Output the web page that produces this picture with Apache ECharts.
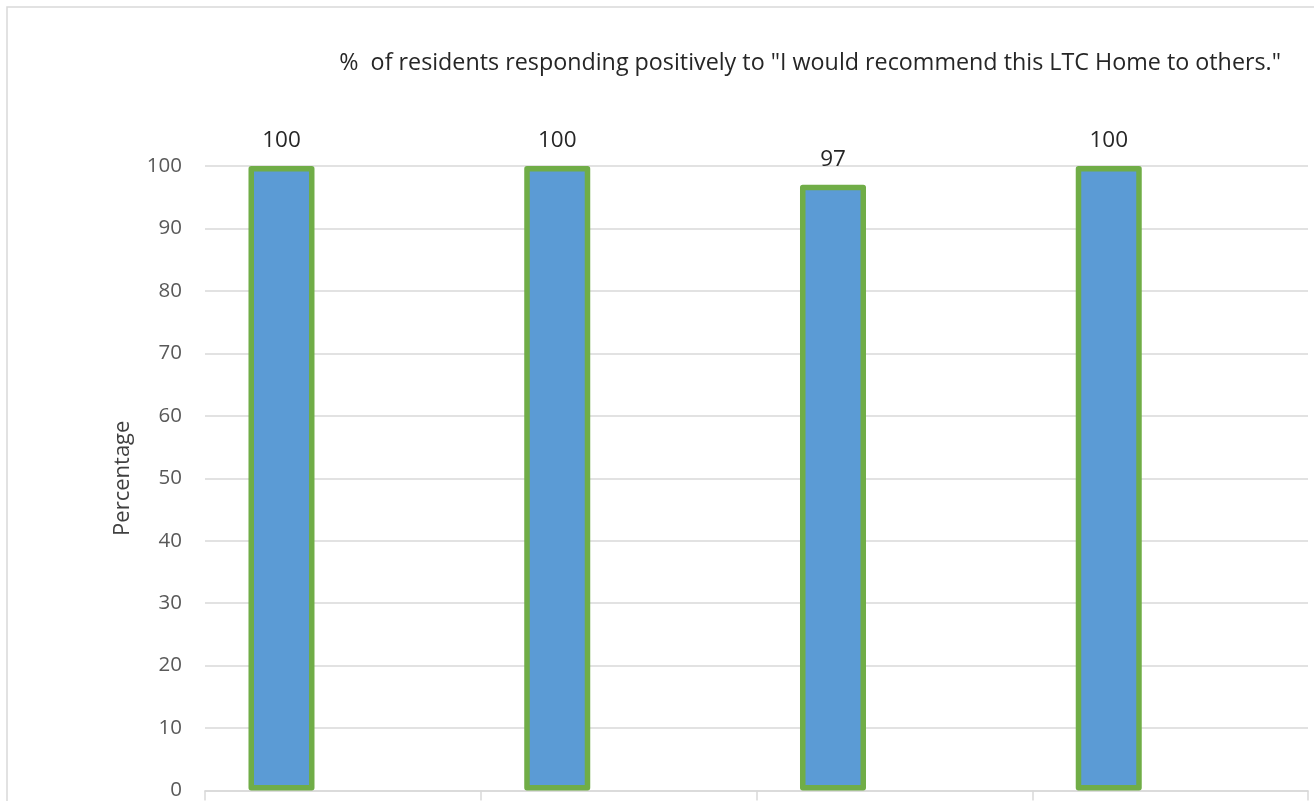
<!DOCTYPE html>
<html>
<head>
<meta charset="utf-8">
<script src="https://cdn.jsdelivr.net/npm/echarts@6/dist/echarts.min.js"></script>
<style>
  html, body { margin: 0; padding: 0; background: #fff; }
  #main { width: 1314px; height: 801px; }
</style>
</head>
<body>
<div id="main"></div>
<script>
// chart data
const categories = ['Survey 1', 'Survey 2', 'Survey 3', 'Survey 4']
const positivePct = [100, 100, 97, 100]
// the original had an empty second series, which pushes the bars left of centre
const emptySeries = ['-', '-', '-', '-']
const yTicks = { min: 0, max: 100, interval: 10 }
const titleText = '%  of residents responding positively to "I would recommend this LTC Home to others."'

const font = 'Open Sans'
const myChart = echarts.init(document.getElementById('main'))

const option = {
  animation: false,
  textStyle: { fontFamily: font },
  title: {
    text: titleText,
    right: 28,
    top: 47,
    textStyle: { fontFamily: font, fontSize: 23.3, fontWeight: 'normal', color: '#262626' },
  },
  graphic: [
    {
      type: 'rect',
      shape: { x: 7, y: 7, width: 1320, height: 820 },
      style: { fill: 'none', stroke: '#d9d9d9', lineWidth: 1.5 },
      silent: true,
    },
  ],
  grid: { left: 205, right: 6, top: 166, bottom: 9 },
  xAxis: {
    type: 'category',
    data: categories,
    axisLine: { show: true, lineStyle: { color: '#d9d9d9', width: 1.5 } },
    axisTick: { show: true, length: 10, lineStyle: { color: '#d9d9d9', width: 1.5 } },
    axisLabel: { show: false },
  },
  yAxis: {
    type: 'value',
    min: yTicks.min,
    max: yTicks.max,
    interval: yTicks.interval,
    name: 'Percentage',
    nameLocation: 'middle',
    nameGap: 71,
    nameTextStyle: { fontFamily: font, fontSize: 22, color: '#404040' },
    axisLine: { show: false },
    axisTick: { show: false },
    axisLabel: { fontFamily: font, fontSize: 20.5, color: '#595959', margin: 23 },
    splitLine: { lineStyle: { color: '#d9d9d9', width: 1.5 } },
  },
  series: [
    {
      name: 'Positive',
      type: 'bar',
      data: positivePct,
      barWidth: 66,
      barGap: '86%',
      itemStyle: {
        color: '#5b9bd5',
        borderColor: '#70ad47',
        borderWidth: 5.5,
        borderJoin: 'round',
      },
      label: {
        show: true,
        position: 'top',
        distance: 14,
        fontFamily: font,
        fontSize: 22.5,
        color: '#262626',
      },
    },
    {
      name: 'Blank',
      type: 'bar',
      data: emptySeries,
      barWidth: 66,
    },
  ],
}

myChart.setOption(option)
</script>
</body>
</html>
